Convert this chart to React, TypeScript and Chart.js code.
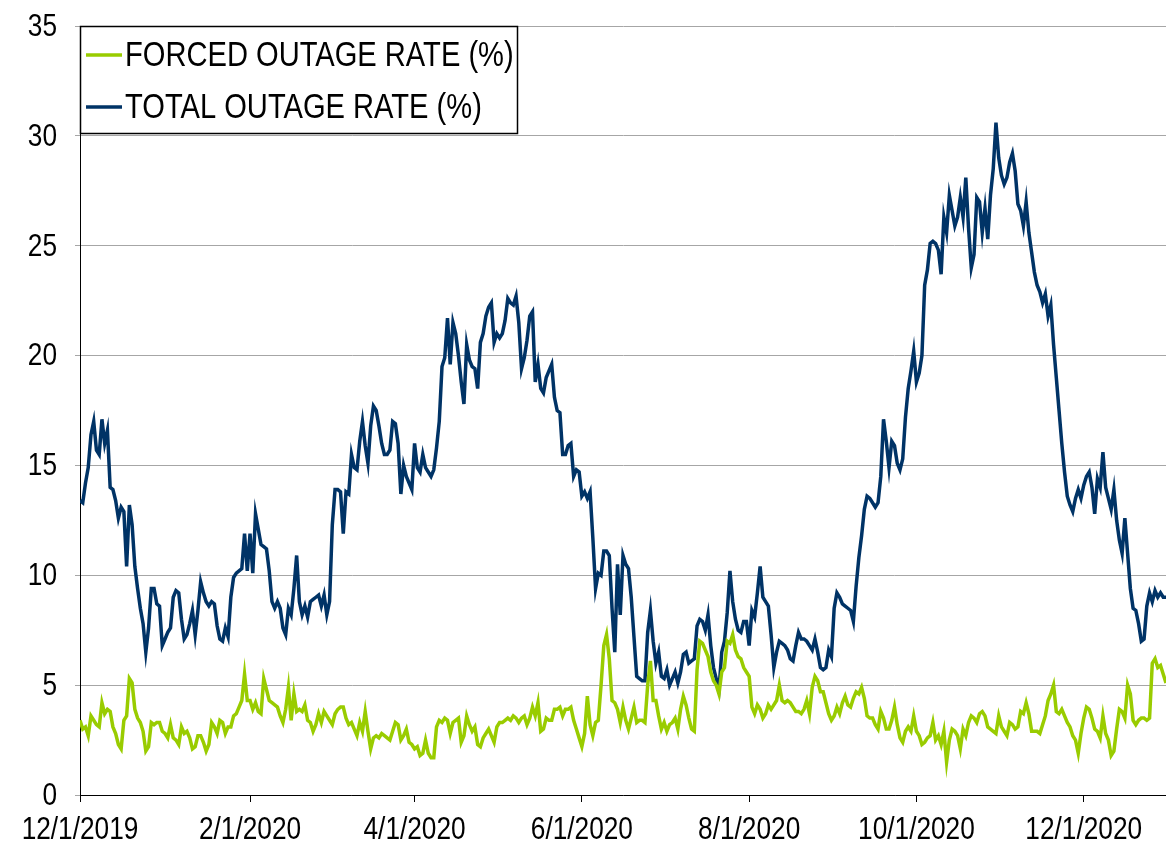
import React, { useEffect, useRef } from 'react';
import { Chart, registerables } from 'chart.js';

Chart.register(...registerables);

// ---------- DATA ----------
const startDate = '2019-12-01'; // first daily observation
const xTickLabels = ['12/1/2019', '2/1/2020', '4/1/2020', '6/1/2020', '8/1/2020', '10/1/2020', '12/1/2020'];
const seriesLabels = ['FORCED OUTAGE RATE (%)', 'TOTAL OUTAGE RATE (%)'];
const yMin = 0;
const yMax = 35;
const yStep = 5;

// daily values, 12/1/2019 .. 12/31/2020
const forcedOutageRate = [
  3.4, 3.0, 3.1, 2.7, 3.6, 3.4, 3.2, 3.1, 4.2, 3.7,
  3.9, 3.8, 3.1, 2.8, 2.3, 2.1, 3.4, 3.6, 5.3, 5.1,
  3.9, 3.5, 3.3, 2.9, 2.0, 2.2, 3.3, 3.2, 3.3, 3.3,
  2.9, 2.8, 2.6, 3.2, 2.6, 2.5, 2.3, 3.1, 2.8, 2.9,
  2.6, 2.1, 2.2, 2.7, 2.7, 2.4, 2.0, 2.3, 3.3, 3.1,
  2.8, 3.4, 3.3, 2.8, 3.1, 3.1, 3.6, 3.7, 4.0, 4.3,
  5.5, 4.3, 4.3, 3.9, 4.2, 3.8, 3.7, 5.3, 4.8, 4.3,
  4.2, 4.1, 4.0, 3.6, 3.3, 3.9, 4.9, 3.4, 4.6, 3.8,
  3.9, 3.8, 4.1, 3.4, 3.3, 2.9, 3.2, 3.7, 3.3, 3.8,
  3.6, 3.4, 3.2, 3.7, 3.9, 4.0, 4.0, 3.5, 3.2, 3.3,
  3.0, 2.7, 3.3, 2.9, 3.8, 2.9, 2.1, 2.6, 2.7, 2.6,
  2.8, 2.7, 2.6, 2.5, 2.9, 3.3, 3.2, 2.5, 2.7, 3.0,
  2.4, 2.3, 2.1, 2.2, 1.8, 1.9, 2.5, 1.9, 1.7, 1.7,
  3.1, 3.4, 3.3, 3.5, 3.4, 2.8, 3.3, 3.4, 3.5, 2.4,
  2.7, 3.6, 3.2, 2.9, 3.1, 2.3, 2.2, 2.6, 2.8, 3.0,
  2.7, 2.4, 3.1, 3.3, 3.3, 3.4, 3.5, 3.4, 3.6, 3.5,
  3.3, 3.5, 3.6, 3.2, 3.5, 4.0, 3.6, 4.2, 2.9, 3.0,
  3.5, 3.4, 3.4, 3.9, 3.9, 4.0, 3.6, 3.9, 3.9, 4.0,
  3.4, 3.0, 2.6, 2.2, 2.8, 4.5, 3.2, 2.7, 3.3, 3.4,
  5.0, 6.8, 7.3, 6.2, 4.3, 4.2, 3.9, 3.3, 4.0, 3.4,
  3.0, 3.5, 4.0, 3.3, 3.4, 3.4, 3.3, 5.0, 6.1, 4.3,
  4.3, 3.6, 3.0, 3.3, 2.9, 3.2, 3.3, 3.5, 3.0, 3.9,
  4.5, 4.1, 3.5, 3.0, 2.9, 5.7, 7.0, 6.9, 6.6, 6.3,
  5.6, 5.2, 5.0, 4.6, 5.6, 5.8, 7.0, 6.9, 7.3, 6.6,
  6.3, 6.2, 5.8, 5.6, 5.4, 4.0, 3.7, 4.1, 3.9, 3.5,
  3.7, 4.1, 3.9, 4.1, 4.3, 5.0, 4.3, 4.2, 4.3, 4.2,
  4.0, 3.8, 3.8, 3.7, 3.9, 4.3, 3.7, 4.9, 5.4, 5.2,
  4.7, 4.7, 4.2, 3.7, 3.4, 3.6, 4.0, 3.7, 4.2, 4.5,
  4.1, 4.0, 4.4, 4.7, 4.6, 4.9, 4.4, 3.6, 3.5, 3.5,
  3.2, 3.0, 3.8, 3.5, 3.0, 3.0, 3.4, 4.0, 3.2, 2.6,
  2.4, 2.9, 3.1, 2.9, 3.6, 2.9, 2.7, 2.3, 2.4, 2.6,
  2.7, 3.3, 2.5, 2.7, 2.3, 2.9, 1.5, 2.5, 3.0, 2.9,
  2.7, 2.1, 3.0, 2.7, 3.3, 3.6, 3.5, 3.3, 3.7, 3.8,
  3.6, 3.1, 3.0, 2.9, 2.8, 3.6, 3.1, 2.9, 2.7, 3.3,
  3.2, 3.0, 3.1, 3.8, 3.7, 4.2, 3.7, 2.9, 2.9, 2.9,
  2.8, 3.2, 3.6, 4.3, 4.6, 5.0, 3.8, 3.7, 3.9, 3.6,
  3.3, 3.1, 2.7, 2.5, 1.9, 2.8, 3.5, 4.0, 3.9, 3.5,
  3.0, 2.9, 2.6, 3.6, 2.8, 2.5, 1.8, 2.0, 3.0, 3.9,
  3.8, 3.5, 5.0, 4.6, 3.4, 3.2, 3.4, 3.5, 3.5, 3.4,
  3.5, 6.0, 6.2, 5.8, 5.9, 5.5, 5.1,
];

const totalOutageRate = [
  13.4, 13.3, 14.2, 14.9, 16.4, 17.0, 15.7, 15.5, 17.1, 16.0,
  16.6, 14.0, 13.9, 13.4, 12.6, 13.1, 12.9, 10.4, 13.2, 12.3,
  10.4, 9.4, 8.5, 7.8, 6.5, 7.6, 9.4, 9.4, 8.7, 8.6,
  6.8, 7.1, 7.4, 7.6, 9.0, 9.3, 9.2, 8.0, 7.1, 7.3,
  7.8, 8.4, 7.3, 8.4, 9.7, 9.2, 8.8, 8.6, 8.8, 8.7,
  7.7, 7.1, 7.0, 7.6, 7.2, 9.0, 9.9, 10.1, 10.2, 10.3,
  11.9, 10.2, 11.9, 10.1, 12.8, 12.1, 11.4, 11.3, 11.2, 10.2,
  8.8, 8.5, 8.8, 8.5, 7.6, 7.3, 8.5, 8.2, 9.4, 10.9,
  8.8, 8.2, 8.6, 8.1, 8.8, 8.9, 9.0, 9.1, 8.6, 9.1,
  8.2, 8.8, 12.3, 13.9, 13.9, 13.8, 11.9, 13.8, 13.7, 15.5,
  14.9, 14.8, 16.1, 17.0, 15.9, 15.1, 16.8, 17.7, 17.5, 16.8,
  16.0, 15.5, 15.5, 15.7, 17.0, 16.9, 16.0, 13.7, 15.0, 14.5,
  14.2, 13.9, 16.0, 14.9, 14.7, 15.5, 14.9, 14.7, 14.5, 14.8,
  15.8, 17.0, 19.5, 19.9, 21.7, 19.6, 21.5, 21.0, 20.0, 18.8,
  17.8, 20.5, 19.8, 19.5, 19.4, 18.5, 20.6, 21.0, 21.8, 22.2,
  22.4, 20.6, 21.0, 20.8, 21.0, 21.6, 22.6, 22.4, 22.3, 22.7,
  21.5, 19.4, 19.9, 20.7, 21.8, 22.0, 18.8, 19.6, 18.5, 18.3,
  19.0, 19.3, 19.6, 18.1, 17.5, 17.4, 15.5, 15.5, 15.9, 16.0,
  14.5, 14.8, 14.7, 13.6, 13.8, 13.5, 13.8, 11.7, 9.4, 10.1,
  10.0, 11.1, 11.1, 10.9, 8.5, 6.5, 10.5, 8.2, 10.9, 10.5,
  10.3, 9.0, 7.2, 5.4, 5.3, 5.2, 5.2, 7.4, 8.4, 7.0,
  6.0, 6.5, 5.4, 5.3, 5.7, 5.0, 5.3, 5.6, 5.1, 5.6,
  6.4, 6.5, 6.0, 6.1, 6.2, 7.7, 8.0, 7.9, 7.5, 8.2,
  6.8, 5.8, 5.3, 4.8, 6.5, 7.0, 8.3, 10.2, 8.8, 8.0,
  7.5, 7.4, 7.9, 7.9, 6.8, 8.4, 8.1, 9.2, 10.4, 9.0,
  8.8, 8.6, 7.3, 5.8, 6.5, 7.0, 6.9, 6.8, 6.6, 6.2,
  6.1, 6.8, 7.4, 7.1, 7.1, 7.0, 6.8, 6.6, 7.1, 6.5,
  5.8, 5.7, 5.8, 6.6, 6.3, 8.5, 9.2, 9.0, 8.7, 8.6,
  8.5, 8.4, 7.9, 9.5, 10.8, 11.8, 13.0, 13.6, 13.5, 13.3,
  13.1, 13.3, 14.5, 17.1, 16.1, 14.9, 16.1, 15.9, 15.1, 14.8,
  15.3, 17.2, 18.5, 19.3, 20.2, 18.8, 19.2, 20.0, 23.2, 23.9,
  25.1, 25.2, 25.1, 24.8, 23.7, 26.3, 25.6, 27.3, 26.6, 25.9,
  26.3, 27.2, 26.3, 28.1, 25.8, 24.0, 24.6, 27.2, 27.0, 25.6,
  26.7, 25.3, 27.3, 28.5, 30.6, 29.0, 28.2, 27.8, 28.1, 28.8,
  29.2, 28.4, 26.9, 26.6, 25.9, 27.0, 25.6, 24.7, 23.8, 23.2,
  22.9, 22.4, 22.8, 21.8, 22.3, 20.5, 19.0, 17.5, 16.0, 14.7,
  13.6, 13.2, 12.9, 13.5, 13.9, 13.5, 14.1, 14.5, 14.7, 14.0,
  12.8, 14.4, 14.0, 15.6, 14.0, 13.5, 13.0, 13.9, 12.5, 11.6,
  11.0, 12.6, 11.0, 9.4, 8.5, 8.4, 7.8, 7.0, 7.1, 8.6,
  9.2, 8.8, 9.3, 9.0, 9.2, 9.0, 9.0,
];

// ---------- STYLE ----------
const FONT = '"Liberation Sans", Arial, Helvetica, sans-serif';
const CONDENSE = 0.82; // narrow lettering of the original
const TICK_SIZE = 32;
const LEGEND_SIZE = 35.5;
const GREEN = '#99cc00';
const NAVY = '#003366';

function dayOffset(label: string): number {
  const [m, d, y] = label.split('/').map(Number);
  const [sy, sm, sd] = startDate.split('-').map(Number);
  return Math.round((Date.UTC(y, m - 1, d) - Date.UTC(sy, sm - 1, sd)) / 86400000);
}

const tickDays = xTickLabels.map(dayOffset);

function narrowText(ctx: CanvasRenderingContext2D, text: string, x: number, y: number, align: CanvasTextAlign, size: number) {
  ctx.save();
  ctx.font = `${size}px ${FONT}`;
  ctx.fillStyle = '#000000';
  ctx.textAlign = align;
  ctx.textBaseline = 'middle';
  ctx.translate(x, y);
  ctx.scale(CONDENSE, 1);
  ctx.fillText(text, 0, 0);
  ctx.restore();
}

// axis tick labels, placed with the chart's own scales
const narrowTickLabels = {
  id: 'narrowTickLabels',
  afterDraw(chart: any) {
    const { ctx } = chart;
    const xs = chart.scales.x;
    const ys = chart.scales.y;
    xs.ticks.forEach((t: any, i: number) => {
      narrowText(ctx, xTickLabels[i], xs.getPixelForValue(t.value), 830, 'center', TICK_SIZE);
    });
    ys.ticks.forEach((t: any) => {
      narrowText(ctx, String(t.value), ys.left + ys.width - 23, ys.getPixelForValue(t.value) + 1, 'right', TICK_SIZE);
    });
  },
};

const boxLegend = {
  id: 'boxLegend',
  afterDraw(chart: any) {
    const { ctx, chartArea } = chart;
    const x = chartArea.left;
    const y = chartArea.top;
    const w = 437;
    const h = 107;
    ctx.save();
    ctx.fillStyle = '#ffffff';
    ctx.fillRect(x, y, w, h);
    ctx.strokeStyle = '#000000';
    ctx.lineWidth = 1.5;
    ctx.strokeRect(x + 0.5, y + 0.5, w, h);
    chart.data.datasets.forEach((ds: any, i: number) => {
      const cy = y + 29 + i * 52;
      ctx.strokeStyle = ds.borderColor;
      ctx.lineWidth = 3.5;
      ctx.beginPath();
      ctx.moveTo(x + 6, cy);
      ctx.lineTo(x + 42, cy);
      ctx.stroke();
      narrowText(ctx, ds.label, x + 45, cy + 1, 'left', LEGEND_SIZE);
    });
    ctx.restore();
  },
};

export default function App() {
  const canvasRef = useRef<HTMLCanvasElement | null>(null);

  useEffect(() => {
    const canvas = canvasRef.current;
    if (!canvas) return;
    const toPoints = (arr: number[]) => arr.map((v, i) => ({ x: i, y: v }));
    const lastDay = Math.max(forcedOutageRate.length, totalOutageRate.length) - 1;

    const chart = new Chart(canvas, {
      type: 'line',
      data: {
        datasets: [
          {
            label: seriesLabels[0],
            data: toPoints(forcedOutageRate),
            borderColor: GREEN,
            backgroundColor: GREEN,
            borderWidth: 3.5,
            pointRadius: 0,
            tension: 0,
          },
          {
            label: seriesLabels[1],
            data: toPoints(totalOutageRate),
            borderColor: NAVY,
            backgroundColor: NAVY,
            borderWidth: 3.5,
            pointRadius: 0,
            tension: 0,
          },
        ],
      },
      options: {
        responsive: false,
        animation: false,
        devicePixelRatio: 1,
        layout: { padding: { top: 26, right: 0, left: 0, bottom: 0 } },
        plugins: {
          legend: { display: false },
          tooltip: { enabled: false },
        },
        scales: {
          x: {
            type: 'linear',
            min: 0,
            max: lastDay,
            afterBuildTicks: (scale: any) => {
              scale.ticks = tickDays.map((v) => ({ value: v }));
            },
            afterFit: (scale: any) => {
              scale.height = 50;
              scale.paddingLeft = 0;
              scale.paddingRight = 0;
            },
            ticks: { display: false, autoSkip: false },
            grid: {
              drawOnChartArea: false,
              drawTicks: true,
              tickLength: 7,
              color: '#000000',
              lineWidth: 1,
            },
            border: { color: '#000000', width: 1 },
          },
          y: {
            min: yMin,
            max: yMax,
            afterFit: (scale: any) => {
              scale.width = 80;
              scale.paddingTop = 0;
              scale.paddingBottom = 0;
            },
            ticks: { display: false, stepSize: yStep },
            grid: {
              color: '#a6a6a6',
              lineWidth: 1,
              tickLength: 5,
            },
            border: { color: '#000000', width: 1 },
          },
        },
      },
      plugins: [narrowTickLabels, boxLegend],
    } as any);

    return () => {
      chart.destroy();
    };
  }, []);

  return (
    <div style={{ position: 'fixed', left: 0, top: 0, width: 1166, height: 845, background: '#ffffff' }}>
      <canvas ref={canvasRef} width={1166} height={845} style={{ display: 'block', width: 1166, height: 845 }} />
    </div>
  );
}
